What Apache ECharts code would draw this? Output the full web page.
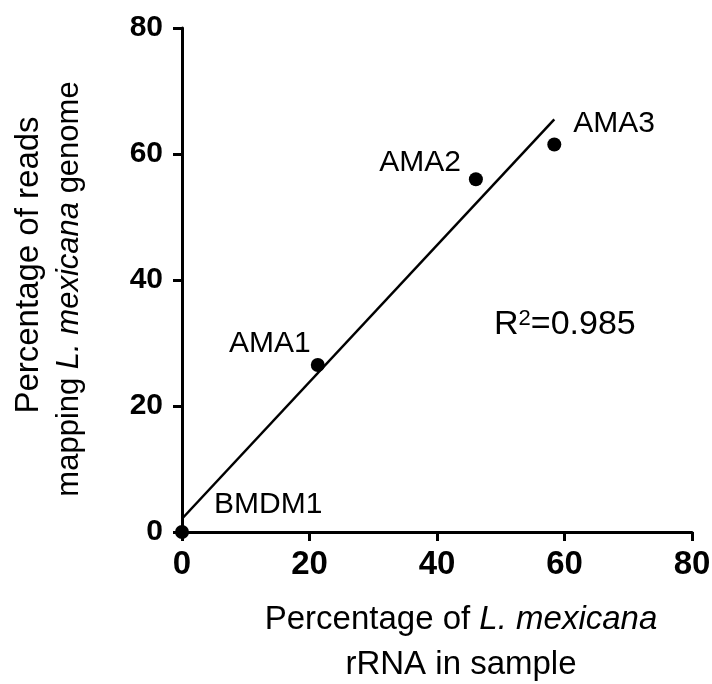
<!DOCTYPE html>
<html>
<head>
<meta charset="utf-8">
<script src="https://cdn.jsdelivr.net/npm/echarts@6/dist/echarts.min.js"></script>
<style>
  html, body { margin: 0; padding: 0; background: #fff; }
  #chart { width: 712px; height: 684px; }
</style>
</head>
<body>
<div id="chart"></div>
<script>
// samples: % L. mexicana rRNA (x) vs % reads mapping L. mexicana genome (y)
var sampleNames = ['BMDM1', 'AMA1', 'AMA2', 'AMA3'];
var rrnaPct = [0, 21.3, 46.1, 58.4];
var readsPct = [0, 26.5, 56.0, 61.5];

// fitted line end points
var fitX = [0, 58.4];
var fitY = [2.1, 65.5];
var rSquared = '0.985';

var axisTicks = [0, 20, 40, 60, 80];

var font = 'Liberation Sans, Arial, Helvetica, sans-serif';

// label placement per point (left/right of the dot, shifted up)
var labelSide = ['right', 'left', 'left', 'right'];
var labelShift = [[25, -27], [0, -21], [-8, -16], [12, -21]];

var chartDom = document.getElementById('chart');
var myChart = echarts.init(chartDom);

var points = sampleNames.map(function (name, i) {
  return {
    name: name,
    value: [rrnaPct[i], readsPct[i]],
    label: {
      position: labelSide[i],
      distance: 0,
      offset: labelShift[i]
    }
  };
});

var fitLine = fitX.map(function (x, i) {
  return [x, fitY[i]];
});

var axisCommon = {
  type: 'value',
  min: axisTicks[0],
  max: axisTicks[axisTicks.length - 1],
  interval: 20,
  axisLine: { show: true, lineStyle: { color: '#000', width: 3 } },
  axisTick: { show: true, inside: false, length: 9, lineStyle: { color: '#000', width: 3 } },
  splitLine: { show: false }
};

var option = {
  animation: false,
  backgroundColor: '#fff',
  grid: {
    left: 182,
    right: 20,
    top: 28,
    bottom: 152,
    outerBoundsMode: 'none'
  },
  xAxis: Object.assign({}, axisCommon, {
    axisLabel: {
      color: '#000',
      fontFamily: font,
      fontWeight: 'bold',
      fontSize: 33,
      margin: 16
    },
    name: 'Percentage of {i|L. mexicana}\nrRNA in sample',
    nameLocation: 'middle',
    nameGap: 65,
    nameTextStyle: {
      color: '#000',
      fontFamily: font,
      fontSize: 33,
      lineHeight: 45,
      padding: [0, 0, 0, 48],
      rich: {
        i: { fontFamily: font, fontSize: 33, fontStyle: 'italic', color: '#000', lineHeight: 45 }
      }
    }
  }),
  yAxis: Object.assign({}, axisCommon, {
    axisLabel: {
      color: '#000',
      fontFamily: font,
      fontWeight: 'bold',
      fontSize: 30,
      margin: 19
    },
    name: '{a|Percentage of reads}\n{n|mapping }{i|L. mexicana}{n| genome}',
    nameLocation: 'middle',
    nameRotate: 90,
    nameGap: 92,
    nameTextStyle: {
      color: '#000',
      fontFamily: font,
      fontSize: 33,
      lineHeight: 41,
      padding: [0, 18, 0, 0],
      rich: {
        a: { fontFamily: font, fontSize: 33, color: '#000', lineHeight: 41, padding: [0, 0, 0, 48] },
        n: { fontFamily: font, fontSize: 31, color: '#000', lineHeight: 41 },
        i: { fontFamily: font, fontSize: 31, fontStyle: 'italic', color: '#000', lineHeight: 41 }
      }
    }
  }),
  graphic: [
    {
      type: 'text',
      left: 494,
      top: 308,
      style: {
        text: '{r|R}{s|2}{r|=' + rSquared + '}',
        rich: {
          r: { fontFamily: font, fontSize: 34, lineHeight: 34, fill: '#000', verticalAlign: 'bottom' },
          s: { fontFamily: font, fontSize: 22, lineHeight: 22, fill: '#000', verticalAlign: 'top' }
        }
      }
    }
  ],
  series: [
    {
      type: 'line',
      data: fitLine,
      showSymbol: false,
      symbol: 'none',
      lineStyle: { color: '#000', width: 2.5 },
      z: 2
    },
    {
      type: 'scatter',
      data: points,
      symbol: 'circle',
      symbolSize: 14,
      clip: false,
      itemStyle: { color: '#000', opacity: 1 },
      label: {
        show: true,
        formatter: '{b}',
        color: '#000',
        opacity: 1,
        fontFamily: font,
        fontSize: 30
      },
      z: 3
    }
  ]
};

option && myChart.setOption(option);
</script>
</body>
</html>
